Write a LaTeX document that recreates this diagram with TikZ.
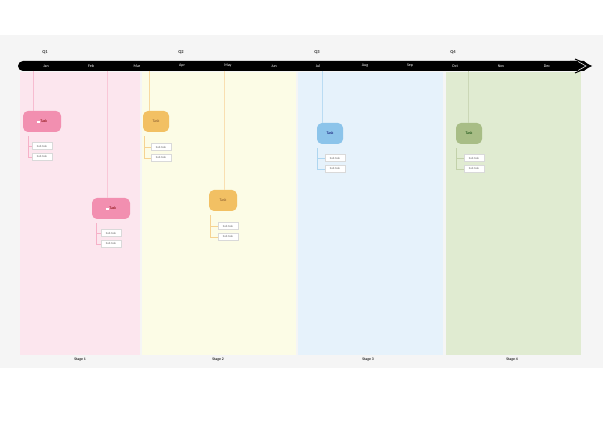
\documentclass[tikz,border=0pt]{standalone}
\usepackage{fontspec}
\setmainfont{Carlito}
\definecolor{cpink}{RGB}{252,230,238}
\definecolor{cyel}{RGB}{252,252,230}
\definecolor{cblue}{RGB}{230,242,251}
\definecolor{cgreen}{RGB}{224,235,209}
\definecolor{tpink}{RGB}{242,143,176}
\definecolor{tyel}{RGB}{242,192,99}
\definecolor{tblue}{RGB}{140,196,234}
\definecolor{tgreen}{RGB}{168,189,134}
\begin{document}
\begin{tikzpicture}[x=1pt,y=-1pt,
  lbl/.style={font=\fontsize{4}{5}\selectfont, inner sep=0},
  month/.style={lbl, text=white},
  qtr/.style={lbl, font=\fontsize{4.5}{5}\selectfont\bfseries, text=black!80},
  stagelbl/.style={lbl, font=\fontsize{3.8}{5}\selectfont\bfseries, text=black!85},
  task/.style={rounded corners=5pt, minimum width=#1, minimum height=21pt, inner sep=0, font=\fontsize{4}{5}\selectfont},
  sub/.style={draw=black!15, fill=white, minimum width=20pt, minimum height=7pt, inner sep=0, font=\fontsize{3}{4}\selectfont, text=black!60},
  conn/.style={line width=0.6pt},
]
\useasboundingbox (0,0) rectangle (603,422);
\fill[white] (0,0) rectangle (603,422);
\fill[black!4] (0,35) rectangle (603,368);
% stage columns
\fill[cpink] (20,72) rectangle (140,355);
\fill[cyel] (142,72) rectangle (296,355);
\fill[cblue] (298,72) rectangle (443,355);
\fill[cgreen] (446,72) rectangle (581,355);
\node[stagelbl] (s1) at (80,360) {Stage 1};
\node[stagelbl] (s2) at (218,360) {Stage 2};
\node[stagelbl] (s3) at (368,360) {Stage 3};
\node[stagelbl] (s4) at (512,360) {Stage 4};
% timeline bar
\fill[black, rounded corners=5pt] (18,61) rectangle (584,71);
\fill[black] (570,61) -- (584,61) -- (590,66) -- (584,71) -- (570,71) -- cycle;
\draw[black, line width=1pt] (575,59) -- (591,66) -- (575,73);
\draw[white, line width=0.5pt] (578,61.5) -- (586,66) -- (578,70.5);
% months
\foreach \m/\x in {Jan/46,Feb/91,Mar/137,Apr/182,May/228,Jun/274,Jul/318,Aug/365,Sep/410,Oct/455,Nov/501,Dec/547}
  \node[month] (m\m) at (\x,66) {\m};
\node[qtr] (q1) at (45,52) {Q1};
\node[qtr] (q2) at (181,52) {Q2};
\node[qtr] (q3) at (317,52) {Q3};
\node[qtr] (q4) at (453,52) {Q4};
% anchors on timeline
\coordinate (a1) at (33,71);
\coordinate (a2) at (107,71);
\coordinate (a3) at (149,71);
\coordinate (a4) at (224,71);
\coordinate (a5) at (322,71);
\coordinate (a6) at (468,71);
% tasks
\node[task=38pt, fill=tpink, text=red!50!black] (t1) at (42,121.5) {\textcolor{white}{\rule{3pt}{2pt}}\,Task};
\node[task=38pt, fill=tpink, text=red!50!black] (t2) at (111,208.5) {\textcolor{white}{\rule{3pt}{2pt}}\,Task};
\node[task=26pt, fill=tyel, text=brown!70!black] (t3) at (156,121.5) {Task};
\node[task=28pt, fill=tyel, text=brown!70!black] (t4) at (223,200.5) {Task};
\node[task=26pt, fill=tblue, text=blue!40!black] (t5) at (330,133.5) {Task};
\node[task=26pt, fill=tgreen, text=green!25!black] (t6) at (469,133.5) {Task};
\draw[conn, tpink!60!white] (a1) -- (a1 |- t1.north);
\draw[conn, tpink!50!white] (a2) -- (a2 |- t2.north);
\draw[conn, tyel!60!white] (a3) -- (a3 |- t3.north);
\draw[conn, tyel!50!white] (a4) -- (a4 |- t4.north);
\draw[conn, tblue!60!white] (a5) -- (a5 |- t5.north);
\draw[conn, tgreen!60!white] (a6) -- (a6 |- t6.north);
% subtasks
\foreach \t/\x/\y in {1/42/146, 2/111/233, 3/161/147, 4/228/226, 5/335/158, 6/474/158}{
  \node[sub] (t\t a) at (\x,\y) {Sub task};
  \node[sub, anchor=north] (t\t b) at ([yshift=-3.5pt]t\t a.south) {Sub task};
}
\foreach \t/\dx/\c in {1/-14/tpink, 2/-15/tpink, 3/-12/tyel, 4/-13/tyel, 5/-13/tblue, 6/-13/tgreen}{
  \coordinate (r\t) at ([xshift=\dx pt, yshift=-4pt]t\t.south);
  \draw[\c!70!white, line width=0.5pt] (r\t) |- (t\t a.west);
  \draw[\c!70!white, line width=0.5pt] (r\t) |- (t\t b.west);
}
\end{tikzpicture}
\end{document}
